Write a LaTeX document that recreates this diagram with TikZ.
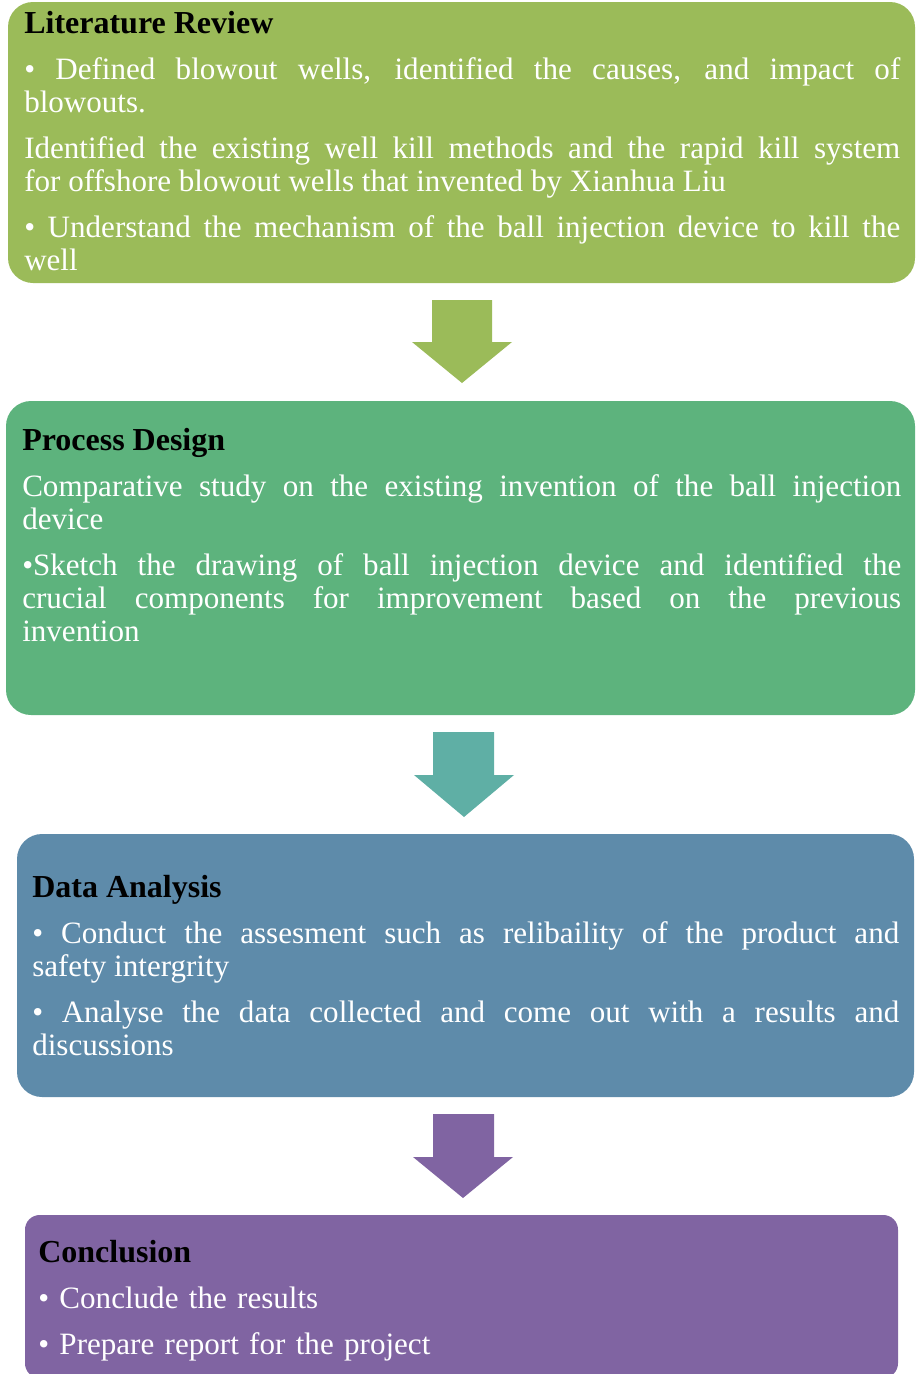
\documentclass[tikz,border=0pt]{standalone}
\usepackage{fontspec}
\setmainfont{Liberation Serif}
\usepackage{tikz}

\definecolor{litgreen}{RGB}{155,187,89}
\definecolor{designgreen}{RGB}{93,179,125}
\definecolor{tealarrow}{RGB}{95,175,165}
\definecolor{analysisblue}{RGB}{94,139,170}
\definecolor{conclpurple}{RGB}{128,100,162}

\tikzset{
  boxtext/.style={anchor=base west, inner sep=0pt, text=white, align=justify,
    font=\fontsize{23.3}{24.75}\selectfont},
}
\newcommand{\boxhead}[1]{{\fontsize{24}{24.75}\selectfont\bfseries\color{black}#1}\par}

\begin{document}
\begin{tikzpicture}[x=0.75pt,y=0.75pt,yscale=-1,xscale=1]
\useasboundingbox (0,0) rectangle (915,1374);

%Shape: Rounded Rectangle [id:lit]
\fill[litgreen, rounded corners=18.75pt] (8,2) rectangle (915,283) ;
%Shape: Down Arrow [id:arr1]
\fill[litgreen] (432,300) -- (492,300) -- (492,342) -- (512,342) -- (462,383) -- (412,342) -- (432,342) -- cycle ;
%Shape: Rounded Rectangle [id:design]
\fill[designgreen, rounded corners=18.75pt] (6,401) rectangle (915,715) ;
%Shape: Down Arrow [id:arr2]
\fill[tealarrow] (433,732) -- (494,732) -- (494,775) -- (514,775) -- (464,817) -- (414,775) -- (433,775) -- cycle ;
%Shape: Rounded Rectangle [id:analysis]
\fill[analysisblue, rounded corners=18.75pt] (17,834) rectangle (914,1097) ;
%Shape: Down Arrow [id:arr3]
\fill[conclpurple] (433,1114) -- (494,1114) -- (494,1157) -- (513,1157) -- (463,1198) -- (413,1157) -- (433,1157) -- cycle ;
%Shape: Rounded Rectangle [id:concl]
\fill[conclpurple, rounded corners=11pt] (25,1215) rectangle (898,1378) ;

% Text Node
\node[boxtext, text width=657pt] (littext) at (24,33) {%
  \setlength{\parskip}{9.75pt}%
  \boxhead{Literature Review}
  • Defined blowout wells, identified the causes, and impact of\linebreak blowouts.\par
  Identified the existing well kill methods and the rapid kill system\linebreak for offshore blowout wells that invented by Xianhua Liu\par
  • Understand the mechanism of the ball injection device to kill the\linebreak well};
% Text Node
\node[boxtext, text width=659.25pt] (designtext) at (22,450) {%
  \setlength{\parskip}{9.75pt}%
  \boxhead{Process Design}
  Comparative study on the existing invention of the ball injection\linebreak device\par
  •Sketch the drawing of ball injection device and identified the\linebreak crucial components for improvement based on the previous\linebreak invention};
% Text Node
\node[boxtext, text width=650.25pt] (analysistext) at (32,897) {%
  \setlength{\parskip}{9.75pt}%
  \boxhead{Data Analysis}
  • Conduct the assesment such as relibaility of the product and\linebreak safety intergrity\par
  • Analyse the data collected and come out with a results and\linebreak discussions};
% Text Node
\node[boxtext, text width=645pt, align=left] (concltext) at (38,1262) {%
  \setlength{\parskip}{9.75pt}%
  \boxhead{Conclusion}
  • Conclude the results\par
  • Prepare report for the project};

\end{tikzpicture}
\end{document}
